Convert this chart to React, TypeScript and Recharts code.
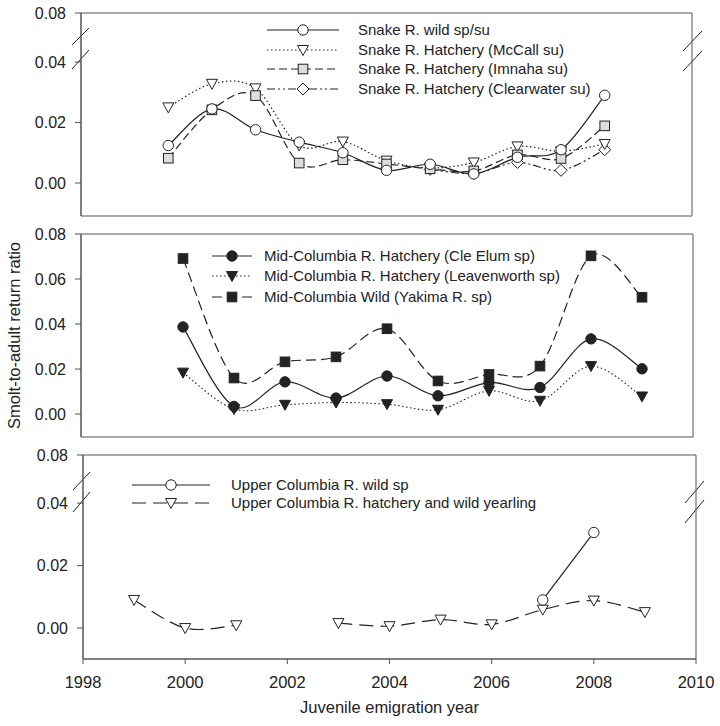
import React from 'react';
import { LineChart, Line, XAxis, YAxis, ReferenceArea } from 'recharts';

// Snake River panel
const snakeYears = [1998, 1999, 2000, 2001, 2002, 2003, 2004, 2005, 2006, 2007, 2008];
const snakeWild = [0.0124, 0.0245, 0.0176, 0.0135, 0.01, 0.0042, 0.0062, 0.003, 0.0085, 0.011, 0.029];
const snakeMcCall = [0.025, 0.0328, 0.0313, 0.0124, 0.0137, 0.0074, 0.005, 0.0068, 0.0121, 0.0105, 0.0129];
const snakeImnaha = [0.0082, 0.0242, 0.0289, 0.0066, 0.0077, 0.0063, 0.0047, 0.004, 0.0093, 0.0081, 0.0189];
const snakeClearwater = [null, null, null, null, null, null, 0.0045, 0.0032, 0.0068, 0.0042, 0.011];
const snakeLabels = [
  'Snake R. wild sp/su',
  'Snake R. Hatchery (McCall su)',
  'Snake R. Hatchery (Imnaha su)',
  'Snake R. Hatchery (Clearwater su)',
];

// Mid-Columbia panel
const midYears = [2000, 2001, 2002, 2003, 2004, 2005, 2006, 2007, 2008, 2009];
const midCleElum = [0.0387, 0.0034, 0.0143, 0.0071, 0.0169, 0.0081, 0.014, 0.0118, 0.0334, 0.0201];
const midLeavenworth = [0.0184, 0.0022, 0.0041, 0.0051, 0.0044, 0.0019, 0.0103, 0.0059, 0.0213, 0.0078];
const midYakima = [0.0691, 0.016, 0.0232, 0.0254, 0.0379, 0.0147, 0.0176, 0.0213, 0.0703, 0.0519];
const midLabels = [
  'Mid-Columbia R. Hatchery (Cle Elum sp)',
  'Mid-Columbia R. Hatchery (Leavenworth sp)',
  'Mid-Columbia Wild (Yakima R. sp)',
];

// Upper Columbia panel
const upperYears = [1999, 2000, 2001, 2002, 2003, 2004, 2005, 2006, 2007, 2008, 2009];
const upperWild = [null, null, null, null, null, null, null, null, 0.009, 0.0306, null];
const upperYearling = [0.009, 0.0, 0.0009, null, 0.0016, 0.0006, 0.0027, 0.0012, 0.0059, 0.0088, 0.0051];
const upperLabels = ['Upper Columbia R. wild sp', 'Upper Columbia R. hatchery and wild yearling'];

const xTicks = [1998, 2000, 2002, 2004, 2006, 2008, 2010];
const yTitle = 'Smolt-to-adult return ratio';
const xTitle = 'Juvenile emigration year';

const snakeRows = snakeYears.map((year, i) => ({
  year,
  wild: snakeWild[i],
  mccall: snakeMcCall[i],
  imnaha: snakeImnaha[i],
  clearwater: snakeClearwater[i],
}));
const midRows = midYears.map((year, i) => ({
  year,
  cle: midCleElum[i],
  leav: midLeavenworth[i],
  yak: midYakima[i],
}));
const upperRows = upperYears.map((year, i) => ({ year, wild: upperWild[i], yearling: upperYearling[i] }));

const INK = '#222';
const FRAME = '#555';
const FONT = '"Liberation Sans", Arial, Helvetica, sans-serif';

// broken axes: top of the lower segment is labelled with the upper break value
const TOP1 = 0.0562;
const TOP3 = 0.0554;
const brokenFmt = (top: number) => (v: number) => (v === top ? '0.08' : v.toFixed(2));

// Catmull-Rom style smoothing like the original plotting software
function smoothCurve(context: any) {
  let pts: number[][] = [];
  return {
    areaStart() {},
    areaEnd() {},
    lineStart() {
      pts = [];
    },
    point(x: number, y: number) {
      pts.push([+x, +y]);
    },
    lineEnd() {
      const n = pts.length;
      if (!n) return;
      context.moveTo(pts[0][0], pts[0][1]);
      for (let i = 0; i < n - 1; i++) {
        const p0 = pts[i - 1] || pts[i];
        const p1 = pts[i];
        const p2 = pts[i + 1];
        const p3 = pts[i + 2] || p2;
        context.bezierCurveTo(
          p1[0] + (p2[0] - p0[0]) / 6,
          p1[1] + (p2[1] - p0[1]) / 6,
          p2[0] - (p3[0] - p1[0]) / 6,
          p2[1] - (p3[1] - p1[1]) / 6,
          p2[0],
          p2[1]
        );
      }
    },
  };
}

type Kind = 'circle' | 'tri' | 'square' | 'diamond';

function Marker({ cx, cy, kind, fill }: { cx: number; cy: number; kind: Kind; fill: string }) {
  const s = { fill, stroke: INK, strokeWidth: 1 };
  if (kind === 'circle') return <circle cx={cx} cy={cy} r={5.2} {...s} />;
  if (kind === 'square') return <rect x={cx - 4.8} y={cy - 4.8} width={9.6} height={9.6} {...s} />;
  if (kind === 'diamond')
    return <polygon points={`${cx},${cy - 6} ${cx + 6},${cy} ${cx},${cy + 6} ${cx - 6},${cy}`} {...s} />;
  return <polygon points={`${cx - 5.5},${cy - 4.5} ${cx + 5.5},${cy - 4.5} ${cx},${cy + 5.5}`} {...s} />;
}

const dotFn = (kind: Kind, fill: string) => (p: any) => {
  const key = `${p.dataKey}-${p.index}`;
  if (p.cx == null || p.cy == null || p.value == null) return <g key={key} />;
  return (
    <g key={key}>
      <Marker cx={p.cx} cy={p.cy} kind={kind} fill={fill} />
    </g>
  );
};

function LegendRow({ x1, x2, y, tx, dash, kind, fill, label }: any) {
  return (
    <g>
      <line x1={x1} x2={x2} y1={y} y2={y} stroke={INK} strokeWidth={1.2} strokeDasharray={dash} />
      <Marker cx={(x1 + x2) / 2} cy={y} kind={kind} fill={fill} />
      <text x={tx} y={y} dy="0.36em" fontSize={15} fill={INK}>
        {label}
      </text>
    </g>
  );
}

function BreakMarks({ marks }: { marks: number[][] }) {
  return (
    <g>
      {marks.map((m, i) => (
        <line key={i} x1={m[0]} y1={m[1]} x2={m[2]} y2={m[3]} stroke={INK} strokeWidth={1} />
      ))}
    </g>
  );
}

const yAxisCommon = {
  type: 'number' as const,
  tickSize: 6,
  tickMargin: 9,
  tick: { fontSize: 16, fill: INK },
  axisLine: { stroke: FRAME },
  tickLine: { stroke: FRAME },
  allowDataOverflow: true,
};

const DOTTED = '1.5 2.5';
const DASHED = '8 4';
const DASHDOT = '8 3 2 3 2 3';
const LONGDASH = '14 7';

export default function App() {
  return (
    <div style={{ position: 'absolute', left: 0, top: 0, width: 720, height: 726, background: '#fff', fontFamily: FONT }}>
      <div style={{ position: 'absolute', left: 0, top: 0 }}>
        <LineChart width={720} height={226} data={snakeRows} margin={{ top: 13, right: 28, bottom: 10, left: 0 }}>
          <XAxis type="number" dataKey="year" domain={[1996, 2010]} hide allowDataOverflow />
          <YAxis {...yAxisCommon} width={81} domain={[-0.0109, TOP1]} ticks={[0, 0.02, 0.04, TOP1]} tickFormatter={brokenFmt(TOP1)} />
          <ReferenceArea x1={1996} x2={2010} y1={-0.0109} y2={TOP1} fill="none" stroke={FRAME} strokeWidth={1} ifOverflow="visible" />
          <Line dataKey="clearwater" type={smoothCurve as any} stroke={INK} strokeWidth={1.2} strokeDasharray={DASHDOT} dot={dotFn('diamond', '#fff')} isAnimationActive={false} />
          <Line dataKey="mccall" type={smoothCurve as any} stroke={INK} strokeWidth={1.2} strokeDasharray={DOTTED} dot={dotFn('tri', '#fff')} isAnimationActive={false} />
          <Line dataKey="imnaha" type={smoothCurve as any} stroke={INK} strokeWidth={1.2} strokeDasharray={DASHED} dot={dotFn('square', '#ddd')} isAnimationActive={false} />
          <Line dataKey="wild" type={smoothCurve as any} stroke={INK} strokeWidth={1.2} dot={dotFn('circle', '#fff')} isAnimationActive={false} />
          <BreakMarks marks={[[72, 45, 89, 28], [72, 69, 89, 50], [683, 51, 702, 31], [683, 71, 702, 51]]} />
          <LegendRow x1={267} x2={339} y={30} tx={358} kind="circle" fill="#fff" label={snakeLabels[0]} />
          <LegendRow x1={267} x2={339} y={50} tx={358} kind="tri" fill="#fff" dash={DOTTED} label={snakeLabels[1]} />
          <LegendRow x1={267} x2={339} y={69} tx={358} kind="square" fill="#ddd" dash={DASHED} label={snakeLabels[2]} />
          <LegendRow x1={267} x2={339} y={89} tx={358} kind="diamond" fill="#fff" dash={DASHDOT} label={snakeLabels[3]} />
        </LineChart>
      </div>

      <div style={{ position: 'absolute', left: 0, top: 220 }}>
        <LineChart width={720} height={230} data={midRows} margin={{ top: 14, right: 27, bottom: 13, left: 0 }}>
          <XAxis type="number" dataKey="year" domain={[1998, 2010]} hide allowDataOverflow />
          <YAxis
            {...yAxisCommon}
            width={81}
            domain={[-0.0102, 0.08]}
            ticks={[0, 0.02, 0.04, 0.06, 0.08]}
            tickFormatter={(v: number) => v.toFixed(2)}
            label={{ value: yTitle, angle: -90, position: 'insideLeft', offset: 14, fontSize: 16.5, fill: INK, style: { textAnchor: 'middle' } }}
          />
          <ReferenceArea x1={1998} x2={2010} y1={-0.0102} y2={0.08} fill="none" stroke={FRAME} strokeWidth={1} ifOverflow="visible" />
          <Line dataKey="leav" type={smoothCurve as any} stroke={INK} strokeWidth={1.1} strokeDasharray={DOTTED} dot={dotFn('tri', INK)} isAnimationActive={false} />
          <Line dataKey="yak" type={smoothCurve as any} stroke={INK} strokeWidth={1.2} strokeDasharray={'10 5'} dot={dotFn('square', INK)} isAnimationActive={false} />
          <Line dataKey="cle" type={smoothCurve as any} stroke={INK} strokeWidth={1.2} dot={dotFn('circle', INK)} isAnimationActive={false} />
          <LegendRow x1={212} x2={252} y={36} tx={264} kind="circle" fill={INK} label={midLabels[0]} />
          <LegendRow x1={212} x2={252} y={56} tx={264} kind="tri" fill={INK} dash={DOTTED} label={midLabels[1]} />
          <LegendRow x1={212} x2={252} y={77} tx={264} kind="square" fill={INK} dash={'10 5'} label={midLabels[2]} />
        </LineChart>
      </div>

      <div style={{ position: 'absolute', left: 0, top: 445 }}>
        <LineChart width={720} height={281} data={upperRows} margin={{ top: 10, right: 24, bottom: 12, left: 0 }}>
          <XAxis
            type="number"
            dataKey="year"
            domain={[1998, 2010]}
            ticks={xTicks}
            height={55}
            tickSize={5}
            tickMargin={12}
            tick={{ fontSize: 16.5, fill: INK }}
            axisLine={{ stroke: FRAME }}
            tickLine={{ stroke: FRAME }}
            allowDataOverflow
            label={{ value: xTitle, position: 'insideBottom', offset: 1, fontSize: 16.5, fill: INK }}
          />
          <YAxis {...yAxisCommon} width={83} domain={[-0.0099, TOP3]} ticks={[0, 0.02, 0.04, TOP3]} tickFormatter={brokenFmt(TOP3)} />
          <ReferenceArea x1={1998} x2={2010} y1={-0.0099} y2={TOP3} fill="none" stroke={FRAME} strokeWidth={1} ifOverflow="visible" />
          <Line dataKey="yearling" type={smoothCurve as any} stroke={INK} strokeWidth={1.2} strokeDasharray={LONGDASH} dot={dotFn('tri', '#fff')} isAnimationActive={false} />
          <Line dataKey="wild" type={smoothCurve as any} stroke={INK} strokeWidth={1.2} dot={dotFn('circle', '#fff')} isAnimationActive={false} />
          <BreakMarks marks={[[73, 45, 90, 27], [73, 67, 90, 47], [685, 58, 704, 36], [685, 78, 704, 55]]} />
          <LegendRow x1={132} x2={210} y={40} tx={231} kind="circle" fill="#fff" label={upperLabels[0]} />
          <LegendRow x1={132} x2={210} y={58} tx={231} kind="tri" fill="#fff" dash={LONGDASH} label={upperLabels[1]} />
        </LineChart>
      </div>
    </div>
  );
}
